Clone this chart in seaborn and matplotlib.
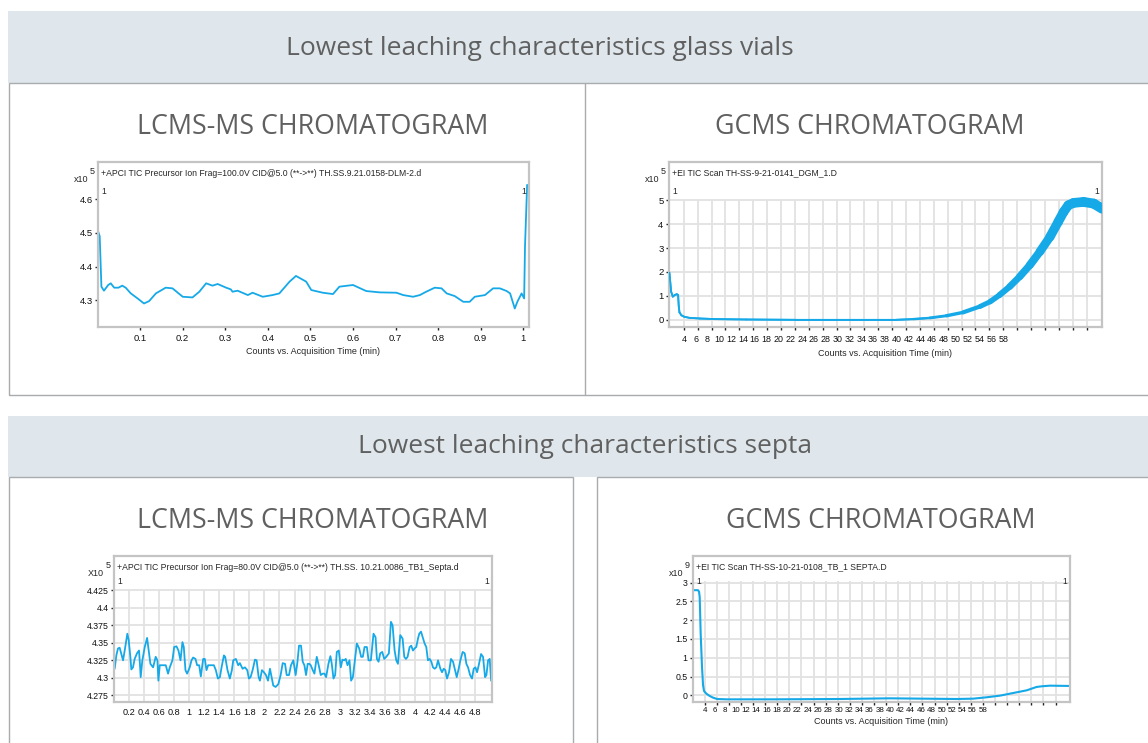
import numpy as np
import pandas as pd
import matplotlib
matplotlib.use("Agg")
import matplotlib.pyplot as plt
from matplotlib.patches import Rectangle
from matplotlib.lines import Line2D
from matplotlib.collections import LineCollection
import seaborn as sns

# ------------------------------------------------------------------ data
# LCMS-MS, glass vial blank (counts x10^5)
lc_vial_time = [0.001, 0.005, 0.009, 0.015, 0.025, 0.031, 0.039, 0.049, 0.058, 0.066,
                0.078, 0.094, 0.109, 0.121, 0.137, 0.160, 0.176, 0.200, 0.223, 0.239,
                0.255, 0.270, 0.282, 0.302, 0.313, 0.317, 0.329, 0.353, 0.364, 0.388,
                0.411, 0.427, 0.451, 0.466, 0.490, 0.502, 0.529, 0.553, 0.568, 0.600,
                0.631, 0.663, 0.702, 0.718, 0.741, 0.757, 0.772, 0.792, 0.808, 0.820,
                0.839, 0.859, 0.874, 0.886, 0.910, 0.929, 0.945, 0.961, 0.969, 0.980,
                0.986, 0.996, 1.002, 1.004, 1.009]
lc_vial_counts = [4.506, 4.490, 4.340, 4.328, 4.345, 4.350, 4.337, 4.337, 4.343, 4.337,
                  4.320, 4.305, 4.290, 4.297, 4.320, 4.337, 4.335, 4.310, 4.308, 4.325,
                  4.350, 4.343, 4.348, 4.337, 4.332, 4.325, 4.328, 4.315, 4.322, 4.310,
                  4.315, 4.320, 4.355, 4.372, 4.355, 4.330, 4.322, 4.318, 4.340, 4.345,
                  4.327, 4.323, 4.322, 4.315, 4.310, 4.315, 4.325, 4.337, 4.335, 4.320,
                  4.312, 4.295, 4.295, 4.310, 4.315, 4.335, 4.335, 4.327, 4.320, 4.275,
                  4.295, 4.320, 4.305, 4.459, 4.643]

# GCMS, glass vial blank (counts x10^5)
gc_vial_time = [1.57, 1.86, 2.14, 2.48, 2.81, 3.04, 3.15, 3.27, 3.6, 4.11, 4.96, 6.65,
                9.47, 14.55, 23.0, 39.95, 42.8, 45.6, 48.4, 51.2, 54.1, 55.8, 57.4,
                59.1, 60.8, 62.5, 64.2, 65.9, 67.3, 68.2, 69.0, 69.9, 71.6, 73.3, 74.7]
gc_vial_counts = [1.97, 1.18, 0.97, 1.04, 1.07, 1.04, 0.56, 0.31, 0.19, 0.125, 0.083,
                  0.056, 0.03, 0.014, 0.0, 0.0, 0.03, 0.08, 0.17, 0.31, 0.56, 0.76,
                  1.04, 1.39, 1.81, 2.29, 2.85, 3.47, 4.1, 4.51, 4.79, 4.89, 4.93,
                  4.86, 4.65]

# LCMS-MS, septa blank (counts x10^5)
lc_septa_time = [0.014, 0.036, 0.058, 0.080, 0.102, 0.125, 0.147, 0.169, 0.182, 0.200,
                 0.222, 0.235, 0.257, 0.279, 0.310, 0.337, 0.350, 0.359, 0.381, 0.413,
                 0.444, 0.466, 0.488, 0.524, 0.558, 0.581, 0.594, 0.612, 0.634, 0.656,
                 0.692, 0.722, 0.745, 0.780, 0.803, 0.834, 0.860, 0.887, 0.913, 0.931,
                 0.953, 0.975, 1.010, 1.033, 1.055, 1.086, 1.108, 1.135, 1.157, 1.188,
                 1.210, 1.232, 1.254, 1.276, 1.330, 1.356, 1.383, 1.410, 1.432, 1.463,
                 1.480, 1.511, 1.542, 1.569, 1.587, 1.622, 1.653, 1.675, 1.711, 1.742,
                 1.773, 1.795, 1.817, 1.844, 1.875, 1.897, 1.924, 1.941, 1.968, 1.994,
                 2.021, 2.048, 2.074, 2.096, 2.118, 2.149, 2.185, 2.216, 2.243, 2.274,
                 2.296, 2.327, 2.353, 2.384, 2.415, 2.438, 2.460, 2.486, 2.509, 2.531,
                 2.553, 2.575, 2.597, 2.615, 2.642, 2.664, 2.695, 2.721, 2.748, 2.775,
                 2.797, 2.819, 2.850, 2.876, 2.894, 2.917, 2.939, 2.961, 2.987, 3.014,
                 3.036, 3.058, 3.080, 3.103, 3.129, 3.151, 3.174, 3.200, 3.227, 3.258,
                 3.284, 3.306, 3.329, 3.360, 3.382, 3.413, 3.448, 3.475, 3.493, 3.515,
                 3.537, 3.564, 3.590, 3.617, 3.652, 3.679, 3.701, 3.728, 3.750, 3.772,
                 3.803, 3.834, 3.856, 3.878, 3.900, 3.927, 3.949, 3.971, 3.993, 4.015,
                 4.038, 4.055, 4.078, 4.100, 4.126, 4.148, 4.170, 4.193, 4.215, 4.237,
                 4.259, 4.281, 4.304, 4.335, 4.357, 4.379, 4.401, 4.423, 4.450, 4.476,
                 4.503, 4.530, 4.552, 4.578, 4.600, 4.631, 4.658, 4.680, 4.702, 4.729,
                 4.755, 4.777, 4.800, 4.822, 4.844, 4.875, 4.901, 4.928, 4.946, 4.968,
                 4.990, 5.008]
lc_septa_counts = [4.313, 4.332, 4.342, 4.343, 4.334, 4.325, 4.339, 4.354, 4.363, 4.354,
                   4.330, 4.312, 4.315, 4.327, 4.335, 4.339, 4.318, 4.301, 4.325, 4.344,
                   4.357, 4.339, 4.320, 4.315, 4.330, 4.325, 4.296, 4.318, 4.318, 4.318,
                   4.318, 4.306, 4.315, 4.325, 4.344, 4.345, 4.339, 4.325, 4.351, 4.344,
                   4.311, 4.306, 4.315, 4.325, 4.329, 4.327, 4.318, 4.318, 4.302, 4.327,
                   4.327, 4.311, 4.318, 4.318, 4.318, 4.311, 4.299, 4.301, 4.315, 4.332,
                   4.330, 4.311, 4.299, 4.311, 4.325, 4.327, 4.318, 4.321, 4.313, 4.315,
                   4.311, 4.299, 4.301, 4.311, 4.326, 4.325, 4.301, 4.296, 4.311, 4.308,
                   4.304, 4.296, 4.313, 4.301, 4.289, 4.287, 4.291, 4.304, 4.321, 4.320,
                   4.304, 4.304, 4.318, 4.325, 4.304, 4.322, 4.346, 4.346, 4.323, 4.318,
                   4.304, 4.320, 4.320, 4.318, 4.311, 4.306, 4.330, 4.318, 4.304, 4.306,
                   4.306, 4.301, 4.320, 4.331, 4.320, 4.299, 4.304, 4.337, 4.339, 4.315,
                   4.326, 4.325, 4.327, 4.318, 4.325, 4.296, 4.301, 4.325, 4.349, 4.342,
                   4.330, 4.330, 4.344, 4.344, 4.325, 4.325, 4.363, 4.358, 4.327, 4.323,
                   4.335, 4.337, 4.327, 4.330, 4.335, 4.380, 4.375, 4.339, 4.325, 4.320,
                   4.361, 4.356, 4.330, 4.327, 4.330, 4.344, 4.346, 4.339, 4.342, 4.344,
                   4.356, 4.363, 4.366, 4.358, 4.349, 4.344, 4.325, 4.327, 4.323, 4.315,
                   4.313, 4.315, 4.325, 4.313, 4.308, 4.313, 4.311, 4.299, 4.308, 4.327,
                   4.323, 4.311, 4.301, 4.313, 4.325, 4.337, 4.335, 4.320, 4.315, 4.304,
                   4.299, 4.313, 4.315, 4.308, 4.318, 4.334, 4.330, 4.301, 4.304, 4.325,
                   4.327, 4.296]

# GCMS, septa blank (counts x10^9)
gc_septa_time = [1.73, 2.38, 2.70, 2.90, 3.03, 3.22, 3.48, 3.68, 3.87, 4.32, 4.97, 5.62,
                 6.40, 8.21, 17.3, 30.2, 39.9, 46.4, 52.9, 56.1, 58.7, 61.3, 63.9, 66.5,
                 68.4, 69.4, 71.0, 74.9]
gc_septa_counts = [2.80, 2.80, 2.80, 2.76, 2.62, 1.64, 0.75, 0.27, 0.115, 0.044, -0.018,
                   -0.062, -0.098, -0.107, -0.107, -0.098, -0.080, -0.089, -0.098, -0.089,
                   -0.053, -0.009, 0.062, 0.133, 0.222, 0.240, 0.257, 0.249]

# tick values
lc_vial_xticks = [0.1, 0.2, 0.3, 0.4, 0.5, 0.6, 0.7, 0.8, 0.9, 1]
lc_vial_yticks = [4.3, 4.4, 4.5, 4.6]
gc_vial_yticks = [0, 1, 2, 3, 4, 5]
lc_septa_xticks = [0.2, 0.4, 0.6, 0.8, 1, 1.2, 1.4, 1.6, 1.8, 2, 2.2, 2.4, 2.6, 2.8,
                   3, 3.2, 3.4, 3.6, 3.8, 4, 4.2, 4.4, 4.6, 4.8]
lc_septa_yticks = [4.275, 4.3, 4.325, 4.35, 4.375, 4.4, 4.425]
gc_septa_yticks = [0, 0.5, 1, 1.5, 2, 2.5, 3]
gc_minute_labels = [4, 6, 8, 10, 12, 14, 16, 18, 20, 22, 24, 26, 28, 30, 32, 34, 36,
                    38, 40, 42, 44, 46, 48, 50, 52, 54, 56, 58]

# titles
section_titles = ["Lowest leaching characteristics glass vials",
                  "Lowest leaching characteristics septa"]
panel_titles = ["LCMS-MS CHROMATOGRAM", "GCMS CHROMATOGRAM"]
trace_titles = [
    "+APCI TIC Precursor Ion Frag=100.0V CID@5.0 (**->**) TH.SS.9.21.0158-DLM-2.d",
    "+EI TIC Scan TH-SS-9-21-0141_DGM_1.D",
    "+APCI TIC Precursor Ion Frag=80.0V CID@5.0 (**->**) TH.SS. 10.21.0086_TB1_Septa.d",
    "+EI TIC Scan TH-SS-10-21-0108_TB_1 SEPTA.D",
]
x_axis_label = "Counts vs. Acquisition Time (min)"

# ------------------------------------------------------------------ style
sns.set_style("white")
plt.rcParams["font.family"] = ["Liberation Sans Narrow", "Liberation Sans", "DejaVu Sans"]

W, H = 1148, 743
BLUE = "#16A9E8"
GRID = "#E2E2E2"
FRAME = "#C4C4C4"
HEAD_BG = "#DFE7EC"
BORDER = "#A9ACAE"
TITLE_COL = "#606060"
TICK_COL = "#222222"
HEAD_FONT = ["Open Sans", "DejaVu Sans"]

fig = plt.figure(figsize=(W / 100, H / 100), dpi=100)
fig.patch.set_facecolor("white")


def fpx(x, y):
    """pixel position (from top-left) -> figure fraction"""
    return x / W, 1 - y / H


def add_rect(x0, y0, x1, y1, fc="none", ec="none", lw=1.0):
    lx, ly = fpx(x0, y1)
    fig.patches.append(Rectangle((lx, ly), (x1 - x0) / W, (y1 - y0) / H,
                                 transform=fig.transFigure, facecolor=fc,
                                 edgecolor=ec, linewidth=lw, zorder=0))


def add_vline(x, y0, y1, color=BORDER, lw=1.0):
    a, b = fpx(x, y0)
    _, c = fpx(x, y1)
    fig.lines.append(Line2D([a, a], [b, c], transform=fig.transFigure,
                            color=color, lw=lw))


# section headers and panel boxes
add_rect(8, 11, W + 2, 83, fc=HEAD_BG)
add_rect(8.5, 83, W + 2, 395, ec=BORDER)
add_vline(585, 83, 395)
add_rect(8, 416, W + 2, 477, fc=HEAD_BG)
add_rect(8.5, 477, 573, H + 2, ec=BORDER)
add_rect(597, 477, W + 2, H + 2, ec=BORDER)

for txt, (cx, cy) in zip(section_titles, [(540, 48.5), (585, 446.5)]):
    fig.text(*fpx(cx, cy), txt, ha="center", va="center", fontsize=19,
             color=TITLE_COL, family=HEAD_FONT)

for (cx, cy), txt in zip([(313, 127.5), (870, 127.5), (313, 521.5), (881, 521.5)],
                         panel_titles * 2):
    fig.text(*fpx(cx, cy), txt, ha="center", va="center", fontsize=19.3,
             color=TITLE_COL, family=HEAD_FONT)


def make_axes(l, t, r, b):
    return fig.add_axes([l / W, 1 - b / H, (r - l) / W, (b - t) / H])


def style_axes(ax, xlim, ylim, yticks, ylabels, fs=6.5):
    ax.set_xlim(*xlim)
    ax.set_ylim(*ylim)
    ax.set_yticks(yticks)
    ax.set_yticklabels(ylabels)
    for s in ax.spines.values():
        s.set_color(FRAME)
        s.set_linewidth(1.6)
    ax.tick_params(axis="y", which="major", left=True, length=2.5, width=1.0,
                   color=TICK_COL, labelsize=fs, pad=1.5, labelcolor="#111111")
    ax.tick_params(axis="x", which="major", bottom=True, length=2.5, width=1.0,
                   color=TICK_COL, labelsize=fs, pad=2.5, labelcolor="#111111")
    ax.set_xlabel("")
    ax.set_ylabel("")


def annotate(ax_box, title, exponent, xlabel_y=None, x10="x10", one_y=None):
    l, t, r, b = ax_box
    fig.text(*fpx(l - 10, t + 17), x10, ha="right", va="center", fontsize=6.5)
    fig.text(*fpx(l - 6, t + 10), exponent, ha="center", va="center", fontsize=6.5)
    fig.text(*fpx(l + 3, t + 11), title, ha="left", va="center", fontsize=6.2)
    fig.text(*fpx(l + 3, one_y), "1", ha="left", va="center", fontsize=6.2)
    fig.text(*fpx(r - 3, one_y), "1", ha="right", va="center", fontsize=6.2)
    if xlabel_y is not None:
        fig.text(*fpx((l + r) / 2, xlabel_y), x_axis_label, ha="center",
                 va="center", fontsize=6.5)


def fmt(v):
    return f"{v:g}"


# ---------------------------------------------------------- LCMS, vials
box1 = (98, 162, 529, 327)
ax1 = make_axes(*box1)
df1 = pd.DataFrame({"time": lc_vial_time, "counts": lc_vial_counts})
sns.lineplot(data=df1, x="time", y="counts", ax=ax1, color=BLUE, lw=1.3,
             estimator=None, sort=False, solid_joinstyle="round")
style_axes(ax1, (0.001, 1.0134), (4.22, 4.711), lc_vial_yticks,
           [fmt(v) for v in lc_vial_yticks], fs=6.8)
ax1.set_xticks(lc_vial_xticks)
ax1.set_xticklabels([fmt(v) for v in lc_vial_xticks])
annotate(box1, trace_titles[0], "5", xlabel_y=352, one_y=191)

# grid spacing of the GC time axes (minutes between grid columns)
GC_GRID_STEP = 2 * 27 / 23
gc_grid = [4 + k * GC_GRID_STEP for k in range(30)]


def gc_xaxis(ax, fs, pad):
    ax.xaxis.remove_overlapping_locs = False
    ax.set_xticks(gc_grid)
    ax.set_xticklabels([""] * len(gc_grid))
    ax.set_xticks(gc_minute_labels, minor=True)
    ax.set_xticklabels([str(v) for v in gc_minute_labels], minor=True)
    ax.tick_params(axis="x", which="minor", length=0, labelsize=fs, pad=pad,
                   labelcolor="#111111")
    ax.tick_params(axis="y", which="minor", left=False)


# ---------------------------------------------------------- GCMS, vials
box2 = (669, 162, 1102, 327)
ax2 = make_axes(*box2)
xl2, yl2 = (1.5, 74.7), (-0.30, 6.6)
ax2.hlines(gc_vial_yticks, *xl2, color=GRID, lw=1.3, zorder=0)
ax2.vlines(gc_grid, yl2[0], gc_vial_yticks[-1], color=GRID, lw=1.3, zorder=0)
df2 = pd.DataFrame({"time": gc_vial_time, "counts": gc_vial_counts})
sns.lineplot(data=df2, x="time", y="counts", ax=ax2, color=BLUE, lw=1.3,
             estimator=None, sort=False)
# the late baseline is a dense ripple; drawn as a widening stroke
pts = np.column_stack([gc_vial_time, gc_vial_counts])
segs = np.stack([pts[:-1], pts[1:]], axis=1)
mid = (pts[:-1, 0] + pts[1:, 0]) / 2
widths = np.interp(mid, [0, 40, 45, 51, 56, 62, 67, 75],
                   [1.3, 1.3, 1.8, 2.6, 3.8, 5.4, 6.8, 7.2])
ax2.add_collection(LineCollection(segs, linewidths=widths, colors=BLUE,
                                  capstyle="round", joinstyle="round", zorder=3))
style_axes(ax2, xl2, yl2, gc_vial_yticks, [fmt(v) for v in gc_vial_yticks], fs=6.8)
gc_xaxis(ax2, 6.4, 5.5)
annotate(box2, trace_titles[1], "5", xlabel_y=353, one_y=192)

# ---------------------------------------------------------- LCMS, septa
box3 = (114, 556, 492, 702)
ax3 = make_axes(*box3)
xl3, yl3 = (0.005, 5.02), (4.2655, 4.474)
ax3.hlines(lc_septa_yticks, *xl3, color=GRID, lw=1.3, zorder=0)
ax3.vlines(lc_septa_xticks, yl3[0], lc_septa_yticks[-1], color=GRID, lw=1.3, zorder=0)
df3 = pd.DataFrame({"time": lc_septa_time, "counts": lc_septa_counts})
sns.lineplot(data=df3, x="time", y="counts", ax=ax3, color=BLUE, lw=1.3,
             estimator=None, sort=False, solid_joinstyle="round")
style_axes(ax3, xl3, yl3, lc_septa_yticks, [fmt(v) for v in lc_septa_yticks], fs=6.3)
ax3.set_xticks(lc_septa_xticks)
ax3.set_xticklabels([fmt(v) for v in lc_septa_xticks])
ax3.tick_params(axis="x", length=0, pad=4, labelsize=6.6)
annotate(box3, trace_titles[2], "5", x10="X10", one_y=582)

# ---------------------------------------------------------- GCMS, septa
box4 = (693, 556, 1070, 702)
ax4 = make_axes(*box4)
xl4, yl4 = (1.73, 74.9), (-0.178, 3.71)
ax4.hlines(gc_septa_yticks, *xl4, color=GRID, lw=1.3, zorder=0)
ax4.vlines(gc_grid, yl4[0], gc_septa_yticks[-1] + 0.05, color=GRID, lw=1.3, zorder=0)
df4 = pd.DataFrame({"time": gc_septa_time, "counts": gc_septa_counts})
sns.lineplot(data=df4, x="time", y="counts", ax=ax4, color=BLUE, lw=1.5,
             estimator=None, sort=False)
style_axes(ax4, xl4, yl4, gc_septa_yticks, [fmt(v) for v in gc_septa_yticks], fs=6.3)
gc_xaxis(ax4, 5.7, 3.5)
annotate(box4, trace_titles[3], "9", xlabel_y=722, one_y=582)

fig.savefig("out.png", dpi=100, facecolor="white")
